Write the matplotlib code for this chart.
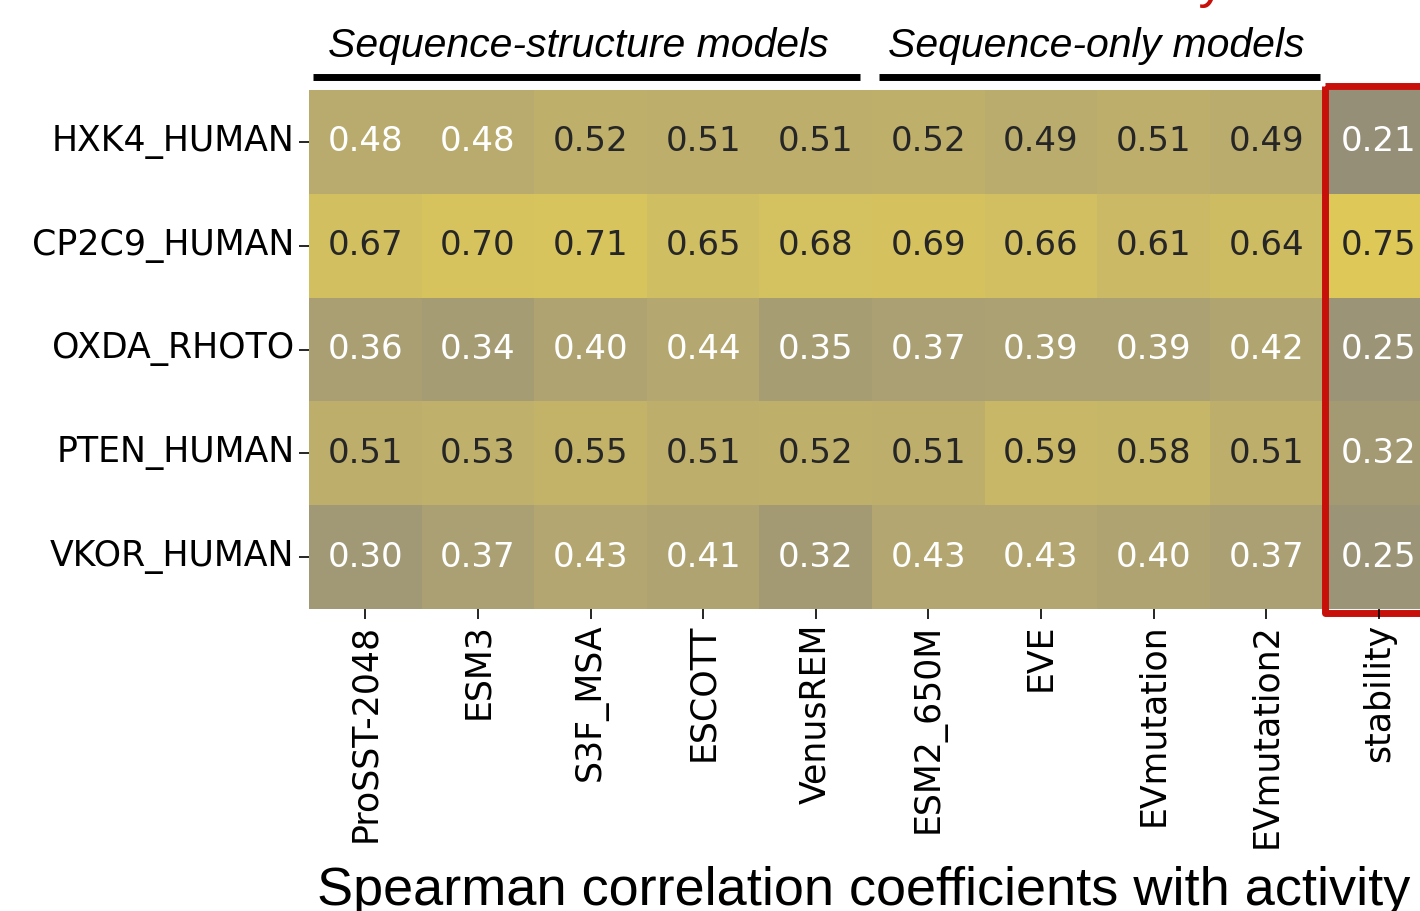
import numpy as np
import matplotlib
matplotlib.use("Agg")
import matplotlib.pyplot as plt
import seaborn as sns
from matplotlib.lines import Line2D
from matplotlib.patches import Rectangle

proteins = ["HXK4_HUMAN", "CP2C9_HUMAN", "OXDA_RHOTO", "PTEN_HUMAN", "VKOR_HUMAN"]
models = ["ProSST-2048", "ESM3", "S3F_MSA", "ESCOTT", "VenusREM",
          "ESM2_650M", "EVE", "EVmutation", "EVmutation2", "stability"]

hxk4 = [0.48, 0.48, 0.52, 0.51, 0.51, 0.52, 0.49, 0.51, 0.49, 0.21]
cp2c9 = [0.67, 0.70, 0.71, 0.65, 0.68, 0.69, 0.66, 0.61, 0.64, 0.75]
oxda = [0.36, 0.34, 0.40, 0.44, 0.35, 0.37, 0.39, 0.39, 0.42, 0.25]
pten = [0.51, 0.53, 0.55, 0.51, 0.52, 0.51, 0.59, 0.58, 0.51, 0.32]
vkor = [0.30, 0.37, 0.43, 0.41, 0.32, 0.43, 0.43, 0.40, 0.37, 0.25]

group_labels = ["Sequence-structure models", "Sequence-only models"]

data = np.array([hxk4, cp2c9, oxda, pten, vkor])

W, H = 1420, 911
fig = plt.figure(figsize=(W / 100, H / 100), dpi=100)


def fx(px):
    return px / W


def fy(py):
    return 1 - py / H


# heatmap axes (right part runs off the canvas, like the cropped original)
ax = fig.add_axes([fx(309), fy(609), 1126 / W, 519 / H])
sns.heatmap(data, ax=ax, cmap="cividis", vmin=-1, vmax=1, annot=True, fmt=".2f",
            cbar=False, annot_kws={"fontsize": 24.5},
            xticklabels=models, yticklabels=proteins)
ax.tick_params(axis="both", labelsize=25, length=7, width=1.2)
ax.set_xticklabels(models, rotation=90)
ax.set_yticklabels(proteins, rotation=0)

# red box around the stability column
ax.add_patch(Rectangle((9.02, -0.04), 1.3, 5.08, fill=False, edgecolor="#c8100a",
                       linewidth=5, joinstyle="round", clip_on=False))

# group headers with black bars
hfont = {"family": "Liberation Sans", "style": "italic", "fontsize": 29.5}
fig.text(fx(578), fy(57), group_labels[0], ha="center", va="baseline", **hfont)
fig.text(fx(1096), fy(57), group_labels[1], ha="center", va="baseline", **hfont)
for x0, x1 in [(313, 860), (879, 1320)]:
    fig.add_artist(Line2D([fx(x0), fx(x1)], [fy(77), fy(77)], color="black",
                          linewidth=5, solid_capstyle="butt"))

# red title cut off at the top of the image (only the tail of the "y" shows)
fig.text(fx(1226), fy(-3), "Correlation with stability",
         ha="right", va="baseline", color="#c8100a",
         family="Liberation Sans", fontsize=39)

# bottom caption
fig.text(fx(864), fy(905), "Spearman correlation coefficients with activity",
         ha="center", va="baseline", family="Liberation Sans", fontsize=39)

fig.savefig("out.png", dpi=100)
